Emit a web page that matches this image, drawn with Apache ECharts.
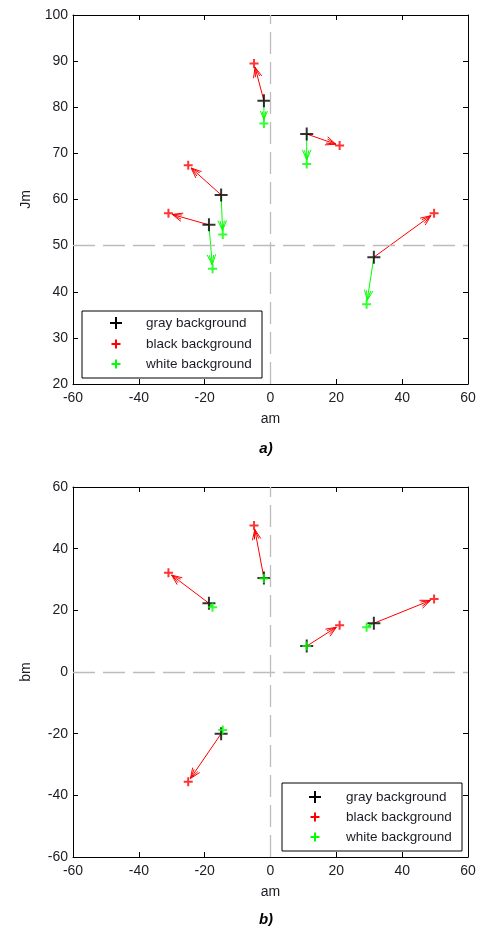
<!DOCTYPE html>
<html>
<head>
<meta charset="utf-8">
<title>am / Jm / bm shifts</title>
<script src="https://cdn.jsdelivr.net/npm/echarts@6/dist/echarts.min.js"></script>
<style>
  html, body { margin: 0; padding: 0; background: #fff; }
  #chart { width: 479px; height: 926px; }
</style>
</head>
<body>
<div id="chart"></div>
<script>
// values, one entry per stimulus
const seriesNames = ['gray background', 'black background', 'white background'];

const amGray  = [-2, 11, -15, -18.7, 31.4];
const jmGray  = [81.4, 74.2, 61, 54.5, 47.5];
const bmGray  = [30.5, 8.4, -20, 22.3, 15.8];

const amBlack = [-5, 21, -25, -31, 49.7];
const jmBlack = [89.5, 71.7, 67.4, 57, 57];
const bmBlack = [47.5, 15.2, -35.6, 32.2, 23.7];

const amWhite = [-2, 11, -14.5, -17.6, 29.2];
const jmWhite = [76.5, 67.7, 52.4, 45, 37.3];
const bmWhite = [30.3, 8.4, -18.8, 21, 14.5];

const amTicks = { min: -60, max: 60, interval: 20 };
const jmTicks = { min: 20, max: 100, interval: 10 };
const bmTicks = { min: -60, max: 60, interval: 20 };

const FONT = 'Liberation Sans';
const TXT = '#1c1c24';
const RED = '#ff0000', GREEN = '#00ff00', BLACK = '#000000';

const pts = (xs, ys) => xs.map((x, i) => [x, ys[i]]);
const segs = (xs0, ys0, xs1, ys1) => xs0.map((x, i) => [x, ys0[i], xs1[i], ys1[i]]);

// open double-V arrow head, like the matlab quiver-ish arrows
function arrowRenderer(color) {
  return function (params, api) {
    const p0 = api.coord([api.value(0), api.value(1)]);
    const p1 = api.coord([api.value(2), api.value(3)]);
    const dx = p1[0] - p0[0], dy = p1[1] - p0[1];
    const len = Math.hypot(dx, dy);
    if (len < 0.5) return;
    const ux = dx / len, uy = dy / len;
    const back = Math.min(4, len * 0.2);
    const tip = [p1[0] - ux * back, p1[1] - uy * back];
    const head = Math.min(11, len * 0.4);
    const barb = (ang, l) => {
      const c = Math.cos(ang), s = Math.sin(ang);
      return [tip[0] - (ux * c - uy * s) * l, tip[1] - (ux * s + uy * c) * l];
    };
    const st = { stroke: color, lineWidth: 1, fill: 'none' };
    return {
      type: 'group',
      children: [
        { type: 'line', shape: { x1: p0[0], y1: p0[1], x2: tip[0], y2: tip[1] }, style: st },
        { type: 'polyline', shape: { points: [barb(0.40, head), tip, barb(-0.40, head)] }, style: st },
        { type: 'polyline', shape: { points: [barb(0.22, head * 0.9), tip, barb(-0.22, head * 0.9)] }, style: st }
      ]
    };
  };
}

const PLUS = 'path://M0,5L10,5M5,0L5,10';

function arrowSeries(data, color, idx) {
  return {
    type: 'custom', xAxisIndex: idx, yAxisIndex: idx,
    renderItem: arrowRenderer(color), data: data, silent: true, z: 1
  };
}
function plusSeries(name, data, color, size, idx) {
  return {
    name: name, type: 'scatter', xAxisIndex: idx, yAxisIndex: idx,
    symbol: PLUS, symbolSize: size, data: data, silent: true, z: 3,
    itemStyle: { color: 'none', borderColor: color, borderWidth: 2 }
  };
}
function guideLines(data) {
  return {
    silent: true, symbol: 'none', label: { show: false }, animation: false,
    lineStyle: { color: '#bcbcbc', type: [22, 8], width: 1.3 },
    data: data
  };
}

const tickStyle = { inside: true, length: 5, lineStyle: { color: BLACK, width: 1 } };
const lineStyle = { onZero: false, lineStyle: { color: BLACK, width: 1 } };
const labelStyle = { fontFamily: FONT, fontSize: 14, color: TXT };
const nameStyle = { fontFamily: FONT, fontSize: 14, color: TXT };

function xAxes(grid, ticks) {
  return [
    Object.assign({ type: 'value', gridIndex: grid, position: 'bottom', name: 'am',
      nameLocation: 'middle', nameGap: 28, nameTextStyle: nameStyle,
      axisLine: lineStyle, axisTick: tickStyle, splitLine: { show: false },
      axisLabel: Object.assign({ margin: 7 }, labelStyle) }, ticks),
    Object.assign({ type: 'value', gridIndex: grid, position: 'top',
      axisLine: lineStyle, axisTick: tickStyle, splitLine: { show: false },
      axisLabel: { show: false } }, ticks)
  ];
}
function yAxes(grid, ticks, name) {
  return [
    Object.assign({ type: 'value', gridIndex: grid, position: 'left', name: name,
      nameLocation: 'middle', nameGap: 40, nameTextStyle: nameStyle,
      axisLine: lineStyle, axisTick: tickStyle, splitLine: { show: false },
      axisLabel: Object.assign({ margin: 5 }, labelStyle) }, ticks),
    Object.assign({ type: 'value', gridIndex: grid, position: 'right',
      axisLine: lineStyle, axisTick: tickStyle, splitLine: { show: false },
      axisLabel: { show: false } }, ticks)
  ];
}

// legend box drawn by hand so the big black plus and the small colored ones match
function legendBox(x, y, w, h, markX, textX, rowY) {
  const sizes = [12, 9, 9], colors = [BLACK, RED, GREEN];
  const children = [{ type: 'rect', shape: { x: x, y: y, width: w, height: h },
    style: { fill: '#fff', stroke: BLACK, lineWidth: 1 } }];
  seriesNames.forEach((nm, i) => {
    const cy = rowY[i], r = sizes[i] / 2;
    children.push({ type: 'line', shape: { x1: markX - r, y1: cy, x2: markX + r, y2: cy },
      style: { stroke: colors[i], lineWidth: 2 } });
    children.push({ type: 'line', shape: { x1: markX, y1: cy - r, x2: markX, y2: cy + r },
      style: { stroke: colors[i], lineWidth: 2 } });
    children.push({ type: 'text', x: textX, y: cy,
      style: { text: nm, fontFamily: FONT, fontSize: 13.5, fill: TXT, verticalAlign: 'middle' } });
  });
  return { type: 'group', z: 100, children: children };
}

const titleText = { fontFamily: FONT, fontSize: 15, fontWeight: 'bold', fontStyle: 'italic', color: '#000' };

const option = {
  backgroundColor: '#fff',
  animation: false,
  title: [
    { text: 'a)', left: 261, top: 436, textAlign: 'center', textStyle: titleText },
    { text: 'b)', left: 261, top: 907, textAlign: 'center', textStyle: titleText }
  ],
  grid: [
    { left: 73, top: 15, width: 395, height: 369 },
    { left: 73, top: 487, width: 395, height: 370 }
  ],
  xAxis: [].concat(xAxes(0, amTicks), xAxes(1, amTicks)),
  yAxis: [].concat(yAxes(0, jmTicks, 'Jm'), yAxes(1, bmTicks, 'bm')),
  series: [
    Object.assign(arrowSeries(segs(amGray, jmGray, amBlack, jmBlack), RED, 0),
      { markLine: guideLines([{ xAxis: 0 }, { yAxis: 50 }]) }),
    arrowSeries(segs(amGray, jmGray, amWhite, jmWhite), GREEN, 0),
    plusSeries(seriesNames[0], pts(amGray, jmGray), BLACK, 13, 0),
    plusSeries(seriesNames[1], pts(amBlack, jmBlack), RED, 9, 0),
    plusSeries(seriesNames[2], pts(amWhite, jmWhite), GREEN, 9, 0),

    Object.assign(arrowSeries(segs(amGray, bmGray, amBlack, bmBlack), RED, 2),
      { markLine: guideLines([{ xAxis: 0 }, { yAxis: 0 }]) }),
    arrowSeries(segs(amGray, bmGray, amWhite, bmWhite), GREEN, 2),
    plusSeries(seriesNames[0], pts(amGray, bmGray), BLACK, 13, 2),
    plusSeries(seriesNames[1], pts(amBlack, bmBlack), RED, 9, 2),
    plusSeries(seriesNames[2], pts(amWhite, bmWhite), GREEN, 9, 2)
  ],
  graphic: [
    legendBox(82, 311, 180, 67, 116, 146, [323, 344, 364]),
    legendBox(282, 783, 180, 68, 315, 346, [797, 817, 837])
  ]
};

const chart = echarts.init(document.getElementById('chart'));
chart.setOption(option);
</script>
</body>
</html>
